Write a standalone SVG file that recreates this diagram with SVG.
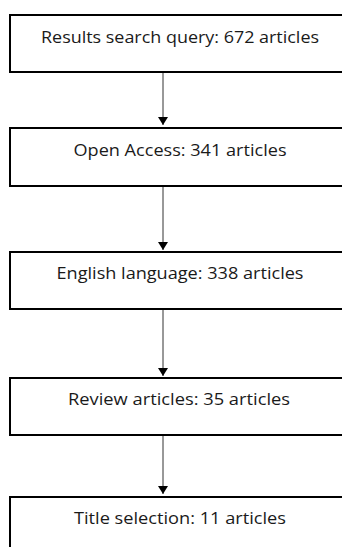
<svg xmlns="http://www.w3.org/2000/svg" width="342" height="547" viewBox="0 0 342 547">
  <style>
    .box { fill: #ffffff; stroke: #000000; stroke-width: 2; }
    .label { font-family: "Open Sans", "Liberation Sans", sans-serif; font-size: 16px; fill: #1a1a1a; text-anchor: middle; }
    .link { stroke: #333333; stroke-width: 1; fill: none; marker-end: url(#head); }
  </style>
  <defs>
    <marker id="head" viewBox="0 0 8 10" refX="8" refY="5" markerWidth="8" markerHeight="10" markerUnits="userSpaceOnUse" orient="auto-start-reverse">
      <path d="M0,0 L8,5 L0,10 Z" fill="#000000"/>
    </marker>
  </defs>
  <rect width="342" height="547" fill="#ffffff"/>

  <g id="connectors">
    <line class="link" x1="163" y1="73" x2="163" y2="125"/>
    <line class="link" x1="163" y1="187" x2="163" y2="250"/>
    <line class="link" x1="163" y1="310" x2="163" y2="376"/>
    <line class="link" x1="163" y1="436" x2="163" y2="494"/>
  </g>

  <g id="n-search">
    <rect class="box" x="10" y="15" width="340" height="57"/>
    <text class="label" x="180" y="43" textLength="278" lengthAdjust="spacingAndGlyphs">Results search query: 672 articles</text>
  </g>
  <g id="n-open">
    <rect class="box" x="10" y="128" width="340" height="58"/>
    <text class="label" x="180" y="156" textLength="213" lengthAdjust="spacingAndGlyphs">Open Access: 341 articles</text>
  </g>
  <g id="n-english">
    <rect class="box" x="10" y="252" width="340" height="57"/>
    <text class="label" x="180" y="279" textLength="247" lengthAdjust="spacingAndGlyphs">English language: 338 articles</text>
  </g>
  <g id="n-review">
    <rect class="box" x="10" y="378" width="340" height="57"/>
    <text class="label" x="179" y="405" textLength="222" lengthAdjust="spacingAndGlyphs">Review articles: 35 articles</text>
  </g>
  <g id="n-title">
    <rect class="box" x="10" y="497" width="340" height="60"/>
    <text class="label" x="180" y="524" textLength="212" lengthAdjust="spacingAndGlyphs">Title selection: 11 articles</text>
  </g>
</svg>
